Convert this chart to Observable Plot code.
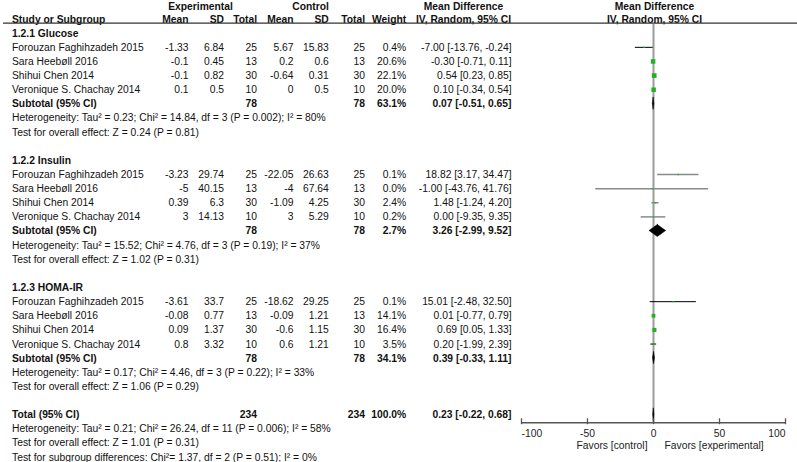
<!DOCTYPE html>
<html><head><meta charset="utf-8">
<script src="https://cdn.jsdelivr.net/npm/d3@7"></script>
<script src="https://cdn.jsdelivr.net/npm/@observablehq/plot@0.6"></script>
<style>body{margin:0;background:#fff} #chart svg{display:block}</style>
</head><body><div id="chart"></div><script>
// ---------- data ----------
const groups = ["1.2.1 Glucose", "1.2.2 Insulin", "1.2.3 HOMA-IR"];
const studies = ["Forouzan Faghihzadeh 2015", "Sara Heebøll 2016", "Shihui Chen 2014", "Veronique S. Chachay 2014"];
const expMean = [[-1.33, -0.1, -0.1, 0.1], [-3.23, -5, 0.39, 3], [-3.61, -0.08, 0.09, 0.8]];
const expSD   = [[6.84, 0.45, 0.82, 0.5], [29.74, 40.15, 6.3, 14.13], [33.7, 0.77, 1.37, 3.32]];
const expN    = [[25, 13, 30, 10], [25, 13, 30, 10], [25, 13, 30, 10]];
const ctlMean = [[5.67, 0.2, -0.64, 0], [-22.05, -4, -1.09, 3], [-18.62, -0.09, -0.6, 0.6]];
const ctlSD   = [[15.83, 0.6, 0.31, 0.5], [26.63, 67.64, 4.25, 5.29], [29.25, 1.21, 1.15, 1.21]];
const ctlN    = [[25, 13, 30, 10], [25, 13, 30, 10], [25, 13, 30, 10]];
const weight  = [[0.4, 20.6, 22.1, 20.0], [0.1, 0.0, 2.4, 0.2], [0.1, 14.1, 16.4, 3.5]];
const md      = [[-7.00, -0.30, 0.54, 0.10], [18.82, -1.00, 1.48, 0.00], [15.01, 0.01, 0.69, 0.20]];
const ciLo    = [[-13.76, -0.71, 0.23, -0.34], [3.17, -43.76, -1.24, -9.35], [-2.48, -0.77, 0.05, -1.99]];
const ciHi    = [[-0.24, 0.11, 0.85, 0.54], [34.47, 41.76, 4.20, 9.35], [32.50, 0.79, 1.33, 2.39]];

const subExpN = [78, 78, 78];
const subCtlN = [78, 78, 78];
const subWeight = [63.1, 2.7, 34.1];
const subMD = [0.07, 3.26, 0.39];
const subLo = [-0.51, -2.99, -0.33];
const subHi = [0.65, 9.52, 1.11];
const hetText = [
  "Heterogeneity: Tau² = 0.23; Chi² = 14.84, df = 3 (P = 0.002); I² = 80%",
  "Heterogeneity: Tau² = 15.52; Chi² = 4.76, df = 3 (P = 0.19); I² = 37%",
  "Heterogeneity: Tau² = 0.17; Chi² = 4.46, df = 3 (P = 0.22); I² = 33%"
];
const testText = [
  "Test for overall effect: Z = 0.24 (P = 0.81)",
  "Test for overall effect: Z = 1.02 (P = 0.31)",
  "Test for overall effect: Z = 1.06 (P = 0.29)"
];
const totalLabel = "Total (95% CI)";
const totalExpN = 234, totalCtlN = 234, totalWeight = 100.0;
const totalMD = 0.23, totalLo = -0.22, totalHi = 0.68;
const totalNotes = [
  "Heterogeneity: Tau² = 0.21; Chi² = 26.24, df = 11 (P = 0.006); I² = 58%",
  "Test for overall effect: Z = 1.01 (P = 0.31)",
  "Test for subgroup differences: Chi²= 1.37, df = 2 (P = 0.51); I² = 0%"
];
const headerTop = ["Experimental", "Control", "Mean Difference", "Mean Difference"];
const headerBottom = ["Study or Subgroup", "Mean", "SD", "Total", "Mean", "SD", "Total", "Weight", "IV, Random, 95% CI", "IV, Random, 95% CI"];
const xTicks = [-100, -50, 0, 50, 100];
const favorsLabels = ["Favors [control]", "Favors [experimental]"];

// ---------- layout ----------
const W = 797, H = 462, ML = 521, MR = 12, MT = 32.7, MB = 5.4;
const FS = 10.8, XSCALE = 0.955, TXT = "#111", FONT = "Liberation Sans, Arial, Helvetica, sans-serif";
const HEAD1 = -1.9, HEAD2 = -1.0, HEADLINE = -0.71, AXIS_ROW = 27.57;
const topPx = [200, 310, 463, 654], topAnchor = ["middle", "middle", "middle", "middle"];
const botPx = [11.5, 188, 223.5, 256.5, 293, 328.3, 364.5, 405.7, 463, 654];
const botAnchor = ["start", "end", "end", "end", "end", "end", "end", "end", "middle", "middle"];
const C = {study: 11.5, em: 188, esd: 223.5, en: 256.5, cm: 293, csd: 328.3, cn: 364.5, w: 405.7, ci: 511};

// ---------- build rows ----------
const f2 = v => v.toFixed(2);
const ciStr = (m, l, h) => `${f2(m)} [${f2(l)}, ${f2(h)}]`;
const studyRows = [], boldRows = [], noteRows = [], diamonds = [];
groups.forEach((g, gi) => {
  const base = gi * 9;
  boldRows.push({row: base, label: g});
  studies.forEach((s, si) => studyRows.push({
    row: base + 1 + si, gi, label: s,
    em: expMean[gi][si], esd: expSD[gi][si], en: expN[gi][si],
    cm: ctlMean[gi][si], csd: ctlSD[gi][si], cn: ctlN[gi][si],
    w: weight[gi][si], md: md[gi][si], lo: ciLo[gi][si], hi: ciHi[gi][si]
  }));
  boldRows.push({row: base + 5, label: "Subtotal (95% CI)", en: subExpN[gi], cn: subCtlN[gi], w: subWeight[gi],
    ci: ciStr(subMD[gi], subLo[gi], subHi[gi])});
  diamonds.push({row: base + 5, md: subMD[gi], lo: subLo[gi], hi: subHi[gi], id: gi});
  noteRows.push({row: base + 6, label: hetText[gi]});
  noteRows.push({row: base + 7, label: testText[gi]});
});
boldRows.push({row: 27, label: totalLabel, en: totalExpN, cn: totalCtlN, w: totalWeight, ci: ciStr(totalMD, totalLo, totalHi)});
diamonds.push({row: 27, md: totalMD, lo: totalLo, hi: totalHi, id: 3});
totalNotes.forEach((t, i) => noteRows.push({row: 28 + i, label: t}));

const DH = 0.42;
const diamondPts = diamonds.flatMap(d => [
  {id: d.id, y: d.row - DH, x1: d.md, x2: d.md},
  {id: d.id, y: d.row, x1: d.lo, x2: d.hi},
  {id: d.id, y: d.row + DH, x1: d.md, x2: d.md}
]);

function txt(data, text, px, anchor, fw) {
  return Plot.text(data, {y: "row", text, frameAnchor: "left", dx: px - ML, textAnchor: anchor,
    fontWeight: fw, fontSize: FS, fill: TXT});
}
const hasN = d => d.en !== undefined;
const boldNum = boldRows.filter(hasN);

const marks = [
  // header
  ...headerTop.map((t, i) => txt([{row: HEAD1}], () => t, topPx[i], topAnchor[i], "bold")),
  ...headerBottom.map((t, i) => txt([{row: HEAD2}], () => t, botPx[i], botAnchor[i], "bold")),
  Plot.ruleY([HEADLINE], {insetLeft: -(ML - 3), insetRight: -MR, stroke: "#333", strokeWidth: 1.2}),
  // zero line
  Plot.ruleX([0], {x: d => d, y1: () => HEADLINE + 0.1, y2: () => AXIS_ROW, stroke: "#9c9c9c", strokeWidth: 2}),
  // study columns
  txt(studyRows, "label", C.study, "start", "normal"),
  txt(studyRows, d => String(d.em), C.em, "end", "normal"),
  txt(studyRows, d => String(d.esd), C.esd, "end", "normal"),
  txt(studyRows, d => String(d.en), C.en, "end", "normal"),
  txt(studyRows, d => String(d.cm), C.cm, "end", "normal"),
  txt(studyRows, d => String(d.csd), C.csd, "end", "normal"),
  txt(studyRows, d => String(d.cn), C.cn, "end", "normal"),
  txt(studyRows, d => d.w.toFixed(1) + "%", C.w, "end", "normal"),
  txt(studyRows, d => ciStr(d.md, d.lo, d.hi), C.ci, "end", "normal"),
  // bold rows
  txt(boldRows, "label", C.study, "start", "bold"),
  txt(boldNum, d => String(d.en), C.en, "end", "bold"),
  txt(boldNum, d => String(d.cn), C.cn, "end", "bold"),
  txt(boldNum, d => d.w.toFixed(1) + "%", C.w, "end", "bold"),
  txt(boldNum, "ci", C.ci, "end", "bold"),
  // notes
  txt(noteRows, "label", C.study, "start", "normal"),
  // forest
  Plot.ruleY(studyRows, {y: "row", x1: "lo", x2: "hi", stroke: d => d.gi === 1 ? "#8a8a8a" : "#000",
    strokeWidth: d => d.gi === 1 ? 1.5 : 1}),
  Plot.dot(studyRows, {x: "md", y: "row", symbol: "square", fill: "#1fb41f", stroke: null,
    r: d => Math.max(1.3, Math.sqrt(d.w)) / Math.sqrt(Math.PI)}),
  Plot.areaX(diamondPts, {y: "y", x1: "x1", x2: "x2", z: "id", fill: "#000", stroke: "#000", strokeWidth: 0.6}),
  // axis
  Plot.ruleY([{y: AXIS_ROW, x1: d3.min(xTicks), x2: d3.max(xTicks)}], {y: "y", x1: "x1", x2: "x2", stroke: "#555", strokeWidth: 1.3}),
  Plot.ruleX(xTicks, {x: d => d, y1: () => AXIS_ROW - 0.28, y2: () => AXIS_ROW + 0.14, stroke: "#555", strokeWidth: 1.3}),
  Plot.text(xTicks.slice(1, -1), {x: d => d, y: () => AXIS_ROW, dy: 10.5, text: d => String(d), textAnchor: "middle", fontSize: FS, fill: "#222"}),
  Plot.text([xTicks[0]], {x: d => d, y: () => AXIS_ROW, dy: 10.5, text: d => String(d), textAnchor: "start", fontSize: FS, fill: "#222"}),
  Plot.text([xTicks[xTicks.length - 1]], {x: d => d, y: () => AXIS_ROW, dy: 10.5, text: d => String(d), textAnchor: "end", fontSize: FS, fill: "#222"}),
  Plot.text([favorsLabels[0]], {x: () => 0, y: () => AXIS_ROW, dy: 22.7, dx: -6, text: d => d, textAnchor: "end", fontSize: FS, fill: "#222"}),
  Plot.text([favorsLabels[1]], {x: () => 0, y: () => AXIS_ROW, dy: 22.7, dx: 11, text: d => d, textAnchor: "start", fontSize: FS, fill: "#222"})
];

const chart = Plot.plot({
  width: W, height: H,
  marginLeft: ML, marginRight: MR, marginTop: MT, marginBottom: MB,
  style: {fontFamily: FONT, fontSize: FS + "px", background: "#fff", overflow: "visible"},
  x: {domain: [-100, 100], axis: null},
  y: {domain: [0, 30], reverse: true, axis: null},
  r: {type: "identity"},
  marks
});
// slightly condensed lettering, as in the reference rendering
chart.querySelectorAll("text").forEach(t => {
  const tr = t.getAttribute("transform");
  t.setAttribute("transform", (tr ? tr + " " : "") + `scale(${XSCALE},1)`);
});
document.getElementById("chart").appendChild(chart);
</script></body></html>
